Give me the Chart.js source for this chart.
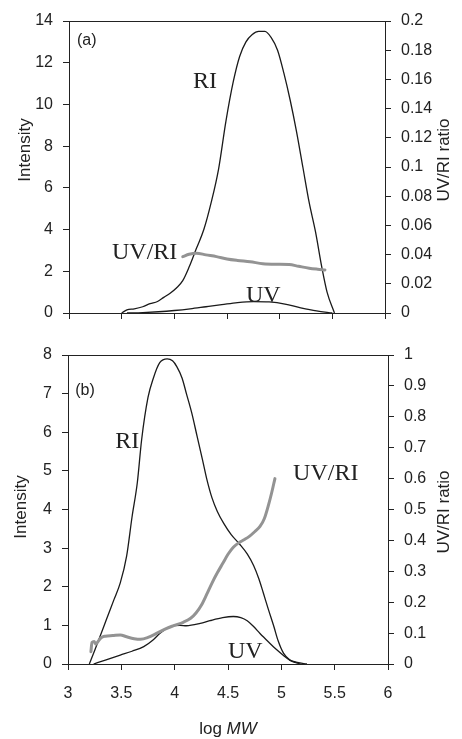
<!DOCTYPE html>
<html><head><meta charset="utf-8">
<script src="https://cdn.jsdelivr.net/npm/chart.js@4.4.1/dist/chart.umd.min.js"></script>
<style>
html,body{margin:0;padding:0;background:#fff;}
#wrap{position:relative;width:462px;height:739px;overflow:hidden;background:#fff;}
canvas{position:absolute;left:0;}
</style></head><body>
<div id="wrap">
<canvas id="ca" width="462" height="335" style="top:0px"></canvas>
<canvas id="cb" width="462" height="404" style="top:335px"></canvas>
</div>
<script>
// ---------- Panel (a) data ----------
const aRI_x = [3.50,3.55,3.62,3.70,3.77,3.84,3.90,3.96,4.02,4.08,4.14,4.21,4.28,4.35,4.42,4.49,4.56,4.62,4.68,4.74,4.80,4.86,4.92,4.98,5.04,5.10,5.16,5.22,5.28,5.34,5.40,5.45,5.52];
const aRI_y = [0.0,0.15,0.2,0.3,0.45,0.55,0.75,0.95,1.2,1.55,2.2,3.1,4.0,5.3,6.9,9.2,11.1,12.3,13.0,13.35,13.5,13.5,13.2,12.6,11.5,10.2,8.7,7.0,5.3,3.9,2.2,1.0,0.0];
const aUV_x = [3.55,3.70,3.85,4.00,4.15,4.30,4.45,4.60,4.75,4.90,5.05,5.20,5.35,5.50];
const aUV_y = [0.0,0.02,0.06,0.12,0.2,0.3,0.4,0.5,0.55,0.53,0.43,0.25,0.1,0.0];
const aRatio_x = [4.08,4.14,4.21,4.30,4.40,4.50,4.60,4.72,4.84,4.96,5.09,5.18,5.28,5.36,5.43];
const aRatio_y = [0.0386,0.0402,0.0410,0.0398,0.0386,0.0370,0.0360,0.0351,0.0338,0.0334,0.0332,0.0320,0.0307,0.0300,0.0295];

// ---------- Panel (b) data ----------
const bRI_x = [3.20,3.25,3.30,3.36,3.43,3.49,3.55,3.60,3.65,3.69,3.75,3.80,3.86,3.93,3.98,4.02,4.07,4.11,4.16,4.21,4.26,4.30,4.35,4.40,4.46,4.53,4.61,4.68,4.74,4.79,4.83,4.88,4.93,4.97,5.02,5.08,5.13,5.18];
const bRI_y = [0.0,0.35,0.71,1.15,1.66,2.1,2.8,3.8,4.7,5.8,6.9,7.4,7.8,7.9,7.85,7.7,7.4,7.0,6.5,5.9,5.3,4.8,4.3,3.95,3.64,3.35,3.1,2.85,2.55,2.2,1.85,1.4,0.97,0.6,0.28,0.1,0.04,0.0];
const bUV_x = [3.24,3.35,3.49,3.60,3.71,3.80,3.86,3.96,4.05,4.11,4.24,4.33,4.45,4.55,4.62,4.68,4.74,4.80,4.88,4.96,5.02,5.08,5.15,5.24];
const bUV_y = [0.0,0.1,0.23,0.33,0.45,0.63,0.79,0.97,1.0,0.99,1.05,1.12,1.2,1.23,1.2,1.12,0.97,0.79,0.57,0.36,0.22,0.1,0.04,0.0];
const bRatio_x = [3.215,3.225,3.245,3.26,3.28,3.31,3.35,3.42,3.49,3.55,3.62,3.68,3.75,3.83,3.91,3.99,4.08,4.15,4.20,4.25,4.30,4.35,4.40,4.45,4.50,4.55,4.60,4.65,4.70,4.75,4.80,4.84,4.88,4.91,4.94];
const bRatio_y = [0.040,0.070,0.073,0.064,0.072,0.085,0.090,0.092,0.094,0.088,0.082,0.080,0.086,0.099,0.113,0.124,0.135,0.148,0.165,0.190,0.225,0.262,0.295,0.325,0.355,0.378,0.392,0.402,0.413,0.428,0.445,0.470,0.515,0.555,0.600];

// ---------- Axis ranges / tick steps ----------
const xRange = [3, 6], xStep = 0.5;
const aIntRange = [0, 14], aIntStep = 2;
const aRatioRange = [0, 0.2], aRatioStep = 0.02;
const bIntRange = [0, 8], bIntStep = 1;
const bRatioRange = [0, 1], bRatioStep = 0.1;

const pts = (xs, ys) => xs.map((x, i) => ({x: x, y: ys[i]}));
const fmt = v => String(+Number(v).toFixed(3));

const SANS = "'Liberation Sans', Arial, Helvetica, sans-serif";
const SERIF = "'Liberation Serif', 'Times New Roman', Times, serif";
const INK = '#222';
const GRAY = '#939393';

const overlay = {
  id: 'overlay',
  afterDraw(chart, args, o) {
    const ctx = chart.ctx, ca = chart.chartArea;
    ctx.save();
    ctx.strokeStyle = INK; ctx.lineWidth = 1;
    ctx.beginPath(); ctx.moveTo(ca.left, Math.round(ca.top) + 0.5); ctx.lineTo(ca.right, Math.round(ca.top) + 0.5); ctx.stroke();
    ctx.fillStyle = INK;
    ctx.font = '17px ' + SANS;
    ctx.textAlign = 'center'; ctx.textBaseline = 'middle';
    for (const t of o.vtitles) {
      ctx.save(); ctx.translate(t.cx, t.cy); ctx.rotate(-Math.PI / 2); ctx.fillText(t.text, 0, 0); ctx.restore();
    }
    if (o.xtitle) {
      const t = o.xtitle;
      ctx.textBaseline = 'alphabetic'; ctx.textAlign = 'left';
      ctx.font = '17px ' + SANS; const w1 = ctx.measureText(t.a).width;
      ctx.font = 'italic 17px ' + SANS; const w2 = ctx.measureText(t.b).width;
      const x0 = t.cx - (w1 + w2) / 2;
      ctx.font = '17px ' + SANS; ctx.fillText(t.a, x0, t.base);
      ctx.font = 'italic 17px ' + SANS; ctx.fillText(t.b, x0 + w1, t.base);
    }
    const xs = chart.scales.x, ys = chart.scales.y;
    ctx.textAlign = 'left'; ctx.textBaseline = 'alphabetic';
    for (const a of o.labels) {
      ctx.font = a.serif ? '24px ' + SERIF : '16px ' + SANS;
      ctx.fillText(a.text, xs.getPixelForValue(a.x), ys.getPixelForValue(a.y));
    }
    ctx.restore();
  }
};

function makeChart(id, cfg) {
  const tickFont = {family: SANS, size: 16};
  return new Chart(document.getElementById(id), {
    type: 'line',
    data: {datasets: [
      {data: pts(cfg.ratio[0], cfg.ratio[1]), yAxisID: 'y2', borderColor: GRAY, borderWidth: 3, pointRadius: 0, cubicInterpolationMode: 'monotone', fill: false, borderCapStyle: 'round', borderJoinStyle: 'round'},
      {data: pts(cfg.ri[0], cfg.ri[1]), yAxisID: 'y', borderColor: '#1a1a1a', borderWidth: 1.3, pointRadius: 0, cubicInterpolationMode: 'monotone', fill: false},
      {data: pts(cfg.uv[0], cfg.uv[1]), yAxisID: 'y', borderColor: '#1a1a1a', borderWidth: 1.3, pointRadius: 0, cubicInterpolationMode: 'monotone', fill: false}
    ]},
    options: {
      responsive: false, animation: false, devicePixelRatio: 1,
      layout: {padding: {top: cfg.padTop, left: 0, right: 0, bottom: 0}},
      plugins: {legend: {display: false}, tooltip: {enabled: false}, overlay: cfg.overlay},
      scales: {
        x: {type: 'linear', min: xRange[0], max: xRange[1],
            ticks: {display: cfg.xLabels, stepSize: xStep, font: tickFont, color: INK, padding: 14, maxRotation: 0, callback: fmt},
            grid: {display: true, drawOnChartArea: false, drawTicks: true, tickLength: 6, color: INK},
            border: {display: true, color: INK, width: 1},
            afterFit: s => { s.height = cfg.xH; }},
        y: {position: 'left', min: cfg.intRange[0], max: cfg.intRange[1],
            ticks: {stepSize: cfg.intStep, font: tickFont, color: INK, padding: 10, callback: fmt},
            grid: {display: true, drawOnChartArea: false, drawTicks: true, tickLength: 6, color: INK},
            border: {display: true, color: INK, width: 1},
            afterFit: s => { s.width = cfg.leftW; }},
        y2: {position: 'right', min: cfg.ratioRange[0], max: cfg.ratioRange[1],
            ticks: {stepSize: cfg.ratioStep, font: tickFont, color: INK, padding: 10, callback: fmt},
            grid: {display: true, drawOnChartArea: false, drawTicks: true, tickLength: 6, color: INK},
            border: {display: true, color: INK, width: 1},
            afterFit: s => { s.width = cfg.rightW; }}
      }
    },
    plugins: [overlay]
  });
}

makeChart('ca', {
  ri: [aRI_x, aRI_y], uv: [aUV_x, aUV_y], ratio: [aRatio_x, aRatio_y],
  intRange: aIntRange, intStep: aIntStep, ratioRange: aRatioRange, ratioStep: aRatioStep,
  padTop: 21, xH: 22, leftW: 69, rightW: 77, xLabels: false,
  overlay: {
    vtitles: [{text: 'Intensity', cx: 25, cy: 150}, {text: 'UV/RI ratio', cx: 444, cy: 160}],
    xtitle: null,
    labels: [
      {text: '(a)', x: 3.076, y: 12.85, serif: false},
      {text: 'RI', x: 4.177, y: 10.79, serif: true},
      {text: 'UV/RI', x: 3.408, y: 2.59, serif: true},
      {text: 'UV', x: 4.68, y: 0.53, serif: true}
    ]
  }
});

makeChart('cb', {
  ri: [bRI_x, bRI_y], uv: [bUV_x, bUV_y], ratio: [bRatio_x, bRatio_y],
  intRange: bIntRange, intStep: bIntStep, ratioRange: bRatioRange, ratioStep: bRatioStep,
  padTop: 20, xH: 75, leftW: 68, rightW: 74, xLabels: true,
  overlay: {
    vtitles: [{text: 'Intensity', cx: 21, cy: 172}, {text: 'UV/RI ratio', cx: 444, cy: 177}],
    xtitle: {a: 'log ', b: 'MW', cx: 228, base: 399},
    labels: [
      {text: '(b)', x: 3.068, y: 6.96, serif: false},
      {text: 'RI', x: 3.443, y: 5.59, serif: true},
      {text: 'UV/RI', x: 5.11, y: 4.76, serif: true},
      {text: 'UV', x: 4.50, y: 0.155, serif: true}
    ]
  }
});
</script>
</body></html>
